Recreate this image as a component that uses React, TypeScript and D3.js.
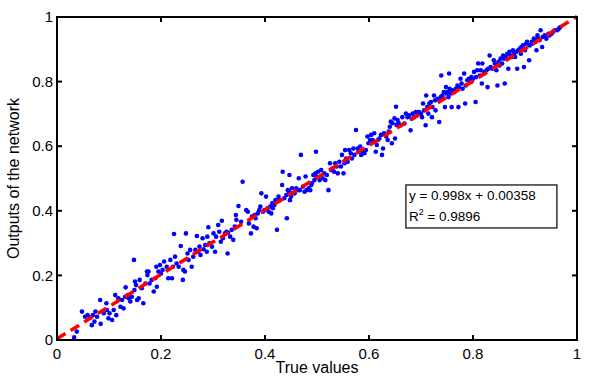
import React from 'react';
import * as d3 from 'd3';

// [true value, network output] pairs in three bands
const lowBand: [number, number][] = [
  [0.033, 0.008], [0.038, 0.026], [0.048, 0.088], [0.054, 0.072], [0.059, 0.077], [0.064, 0.07],
  [0.069, 0.077], [0.074, 0.088], [0.077, 0.072], [0.067, 0.046], [0.072, 0.057], [0.084, 0.05],
  [0.083, 0.124], [0.09, 0.083], [0.095, 0.114], [0.096, 0.093], [0.099, 0.067], [0.101, 0.083],
  [0.106, 0.062], [0.109, 0.093], [0.114, 0.077], [0.112, 0.139], [0.118, 0.129], [0.122, 0.103],
  [0.125, 0.124], [0.128, 0.098], [0.131, 0.134], [0.132, 0.163], [0.136, 0.139], [0.138, 0.129],
  [0.141, 0.119], [0.144, 0.134], [0.148, 0.248], [0.149, 0.155], [0.15, 0.181], [0.152, 0.17],
  [0.154, 0.124], [0.157, 0.129], [0.159, 0.186], [0.163, 0.16], [0.166, 0.114], [0.17, 0.175],
  [0.173, 0.212], [0.176, 0.212], [0.174, 0.201], [0.178, 0.175], [0.182, 0.186], [0.186, 0.15],
  [0.189, 0.191], [0.191, 0.227], [0.192, 0.165], [0.195, 0.212], [0.198, 0.232], [0.2, 0.206],
  [0.203, 0.217], [0.206, 0.243], [0.211, 0.227], [0.214, 0.191], [0.218, 0.248], [0.221, 0.191],
  [0.223, 0.227], [0.225, 0.328], [0.227, 0.258], [0.23, 0.237], [0.234, 0.227], [0.238, 0.291],
  [0.242, 0.186], [0.243, 0.217], [0.246, 0.212], [0.248, 0.33], [0.251, 0.268], [0.253, 0.248],
  [0.256, 0.279], [0.259, 0.227], [0.262, 0.258], [0.266, 0.279], [0.269, 0.322], [0.272, 0.273],
  [0.274, 0.289], [0.276, 0.263], [0.28, 0.315], [0.282, 0.281], [0.285, 0.294], [0.288, 0.273],
  [0.291, 0.349], [0.289, 0.32], [0.293, 0.299], [0.298, 0.289], [0.301, 0.33], [0.304, 0.273],
  [0.306, 0.32], [0.31, 0.356], [0.312, 0.335], [0.315, 0.304], [0.317, 0.369], [0.319, 0.315],
  [0.323, 0.33], [0.326, 0.335], [0.328, 0.268], [0.329, 0.332], [0.333, 0.32], [0.336, 0.341],
  [0.339, 0.31], [0.342, 0.351], [0.344, 0.387], [0.345, 0.372], [0.349, 0.415],
];

const midBand: [number, number][] = [
  [0.354, 0.366], [0.357, 0.49], [0.364, 0.402], [0.367, 0.397], [0.369, 0.361], [0.373, 0.33],
  [0.375, 0.382], [0.378, 0.351], [0.38, 0.387], [0.382, 0.377], [0.384, 0.346], [0.386, 0.392],
  [0.389, 0.402], [0.391, 0.413], [0.393, 0.454], [0.396, 0.397], [0.399, 0.402], [0.402, 0.444],
  [0.405, 0.408], [0.407, 0.397], [0.41, 0.413], [0.412, 0.392], [0.414, 0.423], [0.415, 0.408],
  [0.418, 0.418], [0.42, 0.433], [0.423, 0.341], [0.425, 0.433], [0.426, 0.444], [0.429, 0.433],
  [0.433, 0.48], [0.434, 0.521], [0.437, 0.439], [0.441, 0.449], [0.442, 0.377], [0.444, 0.464],
  [0.446, 0.459], [0.447, 0.511], [0.448, 0.433], [0.45, 0.444], [0.452, 0.47], [0.453, 0.454],
  [0.457, 0.454], [0.46, 0.47], [0.463, 0.464], [0.465, 0.501], [0.467, 0.464], [0.469, 0.573],
  [0.473, 0.475], [0.476, 0.459], [0.478, 0.506], [0.48, 0.464], [0.484, 0.47], [0.487, 0.464],
  [0.489, 0.48], [0.49, 0.485], [0.493, 0.511], [0.495, 0.495], [0.497, 0.516], [0.498, 0.583],
  [0.499, 0.506], [0.502, 0.521], [0.505, 0.495], [0.508, 0.526], [0.511, 0.501], [0.514, 0.516],
  [0.516, 0.495], [0.519, 0.511], [0.522, 0.464], [0.525, 0.547], [0.527, 0.526], [0.53, 0.531],
  [0.533, 0.521], [0.535, 0.547], [0.538, 0.537], [0.54, 0.516], [0.543, 0.552], [0.546, 0.537],
  [0.548, 0.573], [0.551, 0.516], [0.553, 0.547], [0.554, 0.588], [0.556, 0.562], [0.559, 0.552],
  [0.562, 0.588], [0.565, 0.578], [0.567, 0.562], [0.57, 0.593], [0.572, 0.573], [0.575, 0.65],
  [0.578, 0.593], [0.58, 0.583], [0.583, 0.599], [0.585, 0.573], [0.588, 0.583], [0.591, 0.578],
  [0.594, 0.588], [0.597, 0.63], [0.599, 0.609], [0.602, 0.619], [0.604, 0.635], [0.607, 0.619],
  [0.61, 0.64], [0.613, 0.583], [0.615, 0.604], [0.617, 0.619], [0.62, 0.624], [0.623, 0.635],
  [0.625, 0.573], [0.627, 0.593], [0.629, 0.64], [0.633, 0.63], [0.636, 0.619], [0.638, 0.645],
  [0.64, 0.66], [0.642, 0.676], [0.644, 0.609], [0.645, 0.671], [0.649, 0.686], [0.65, 0.624],
  [0.652, 0.722], [0.653, 0.666], [0.655, 0.681], [0.657, 0.671],
];

const highBand: [number, number][] = [
  [0.661, 0.665], [0.664, 0.69], [0.668, 0.67], [0.671, 0.701], [0.674, 0.69], [0.677, 0.696],
  [0.68, 0.649], [0.682, 0.685], [0.684, 0.701], [0.687, 0.69], [0.69, 0.706], [0.693, 0.696],
  [0.696, 0.706], [0.7, 0.701], [0.702, 0.69], [0.704, 0.732], [0.706, 0.711], [0.709, 0.665],
  [0.71, 0.757], [0.712, 0.721], [0.714, 0.701], [0.716, 0.732], [0.719, 0.737], [0.721, 0.69],
  [0.722, 0.721], [0.725, 0.757], [0.727, 0.742], [0.728, 0.711], [0.732, 0.747], [0.735, 0.675],
  [0.736, 0.742], [0.738, 0.752], [0.739, 0.819], [0.741, 0.757], [0.744, 0.768], [0.746, 0.721],
  [0.748, 0.783], [0.749, 0.763], [0.751, 0.768], [0.753, 0.752], [0.754, 0.825], [0.755, 0.778],
  [0.757, 0.763], [0.759, 0.721], [0.76, 0.773], [0.764, 0.768], [0.767, 0.778], [0.77, 0.788],
  [0.772, 0.721], [0.773, 0.783], [0.776, 0.809], [0.778, 0.794], [0.78, 0.778], [0.783, 0.825],
  [0.785, 0.732], [0.786, 0.788], [0.789, 0.804], [0.792, 0.809], [0.796, 0.799], [0.797, 0.814],
  [0.8, 0.809], [0.802, 0.83], [0.805, 0.737], [0.806, 0.814], [0.808, 0.835], [0.81, 0.856],
  [0.813, 0.819], [0.815, 0.835], [0.817, 0.794], [0.818, 0.856], [0.821, 0.825], [0.823, 0.83],
  [0.826, 0.835], [0.828, 0.783], [0.829, 0.84], [0.832, 0.881], [0.834, 0.845], [0.837, 0.84],
  [0.84, 0.866], [0.842, 0.856], [0.845, 0.835], [0.847, 0.788], [0.849, 0.861], [0.851, 0.85],
  [0.853, 0.871], [0.856, 0.856], [0.858, 0.881], [0.86, 0.871], [0.861, 0.794], [0.863, 0.876],
  [0.866, 0.886], [0.868, 0.84], [0.87, 0.892], [0.872, 0.881], [0.874, 0.876], [0.877, 0.897],
  [0.879, 0.886], [0.881, 0.876], [0.883, 0.892], [0.885, 0.84], [0.887, 0.897], [0.89, 0.902],
  [0.892, 0.886], [0.893, 0.907], [0.896, 0.912], [0.898, 0.845], [0.9, 0.897], [0.902, 0.917],
  [0.904, 0.923], [0.908, 0.866], [0.909, 0.912], [0.913, 0.923], [0.914, 0.917], [0.917, 0.933],
  [0.92, 0.923], [0.922, 0.897], [0.924, 0.943], [0.925, 0.933], [0.928, 0.928], [0.93, 0.959],
  [0.933, 0.907], [0.934, 0.938], [0.938, 0.943], [0.941, 0.933], [0.945, 0.948], [0.947, 0.943],
  [0.951, 0.948], [0.954, 0.954], [0.957, 0.959], [0.962, 0.959], [0.965, 0.964], [0.968, 0.969],
];

const tickValues = [0, 0.2, 0.4, 0.6, 0.8, 1];
const fitSlope = 0.998;
const fitIntercept = 0.00358;
const fitLabel = 'y = 0.998x + 0.00358';
const r2Value = '0.9896';

const W = 598;
const H = 379;
const margin = { top: 17, right: 21, bottom: 39, left: 57 };
const font = '"Liberation Sans", Arial, Helvetica, sans-serif';

export default function App() {
  const innerW = W - margin.left - margin.right;
  const innerH = H - margin.top - margin.bottom;

  const x = d3.scaleLinear().domain([0, 1]).range([0, innerW]);
  const y = d3.scaleLinear().domain([0, 1]).range([innerH, 0]);

  const points = [...lowBand, ...midBand, ...highBand];
  const fitLine = d3.line<number>()
    .x(d => x(d))
    .y(d => y(fitSlope * d + fitIntercept));

  const tickLen = 5;

  return (
    <svg
      width={W}
      height={H}
      style={{ position: 'absolute', left: 0, top: 0, background: '#fff' }}
      fontFamily={font}
    >
      <g transform={`translate(${margin.left},${margin.top})`}>
        {/* data points */}
        {points.map((d, i) => (
          <circle key={i} cx={x(d[0])} cy={y(d[1])} r={2.3} fill="#0000ff" />
        ))}

        {/* regression fit */}
        <path
          d={fitLine([0, 1]) || ''}
          fill="none"
          stroke="#ff0000"
          strokeWidth={3.5}
          strokeDasharray="10 6"
        />

        {/* frame */}
        <rect x={0} y={0} width={innerW} height={innerH} fill="none" stroke="#000" strokeWidth={2} />

        {/* ticks on all four sides, pointing inward */}
        {tickValues.map(t => (
          <g key={`t${t}`} stroke="#000" strokeWidth={2}>
            <line x1={x(t)} x2={x(t)} y1={innerH} y2={innerH - tickLen} />
            <line x1={x(t)} x2={x(t)} y1={0} y2={tickLen} />
            <line x1={0} x2={tickLen} y1={y(t)} y2={y(t)} />
            <line x1={innerW} x2={innerW - tickLen} y1={y(t)} y2={y(t)} />
          </g>
        ))}

        {/* x tick labels */}
        {tickValues.map(t => (
          <text key={`xl${t}`} x={x(t)} y={innerH + 19} textAnchor="middle" fontSize={15} fill="#000">
            {String(t)}
          </text>
        ))}

        {/* y tick labels */}
        {tickValues.map(t => (
          <text key={`yl${t}`} x={-4} y={y(t)} dy="0.35em" textAnchor="end" fontSize={15} fill="#000">
            {String(t)}
          </text>
        ))}

        {/* axis titles */}
        <text x={innerW / 2} y={innerH + 33} textAnchor="middle" fontSize={16} fill="#000">
          True values
        </text>
        <text
          transform={`translate(${-38},${innerH / 2}) rotate(-90)`}
          textAnchor="middle"
          fontSize={16}
          fill="#000"
        >
          Outputs of the network
        </text>

        {/* fit annotation */}
        <g transform={`translate(${x(0.671)},${y(0.48)})`}>
          <rect x={0} y={0} width={151} height={43} fill="#fff" stroke="#000" strokeWidth={1.2} />
          <text x={3} y={15} fontSize={13.5} fill="#000">{fitLabel}</text>
          <text x={3} y={36} fontSize={13.5} fill="#000">
            R<tspan dy={-6} fontSize={9}>2</tspan>
            <tspan dy={6}> = {r2Value}</tspan>
          </text>
        </g>
      </g>
    </svg>
  );
}
